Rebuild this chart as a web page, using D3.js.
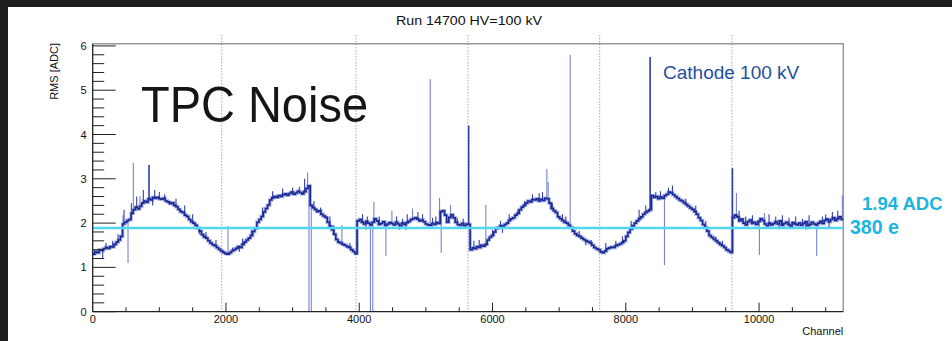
<!DOCTYPE html>
<html>
<head>
<meta charset="utf-8">
<script src="https://cdn.jsdelivr.net/npm/d3@7"></script>
<style>
  html, body { margin: 0; padding: 0; background: #fff; }
  svg { display: block; font-family: "Liberation Sans", Arial, Helvetica, sans-serif; }
</style>
</head>
<body>
<div id="pic"></div>
<script>
// noise RMS per 32-channel bin
var binWidth = 32;
var rms = [
  1.30, 1.36, 1.33, 1.40, 1.38, 1.42, 1.45, 1.43, 1.47, 1.46,
  1.52, 1.57, 1.62, 1.70, 1.98, 2.02, 2.06, 2.08, 2.22, 2.30,
  2.36, 2.32, 2.38, 2.45, 2.50, 2.47, 2.55, 2.52, 2.58, 2.56,
  2.58, 2.55, 2.54, 2.56, 2.50, 2.48, 2.44, 2.46, 2.40, 2.37,
  2.31, 2.26, 2.24, 2.18, 2.15, 2.08, 2.03, 2.00, 1.95, 1.89,
  1.82, 1.74, 1.69, 1.66, 1.60, 1.55, 1.51, 1.49, 1.45, 1.41,
  1.37, 1.34, 1.31, 1.30, 1.33, 1.37, 1.40, 1.43, 1.47, 1.45,
  1.52, 1.57, 1.62, 1.66, 1.72, 1.81, 1.88, 2.02, 2.08, 2.15,
  2.25, 2.33, 2.41, 2.52, 2.57, 2.60, 2.58, 2.62, 2.60, 2.64,
  2.66, 2.63, 2.67, 2.70, 2.65, 2.68, 2.72, 2.69, 2.66, 2.71,
  2.78, 2.84, 2.40, 2.35, 2.31, 2.26, 2.28, 2.20, 2.16, 2.13,
  2.02, 1.93, 1.85, 1.75, 1.63, 1.57, 1.55, 1.52, 1.50, 1.47,
  1.45, 1.40, 1.36, 1.31, 2.05, 2.08, 2.02, 1.98, 2.04, 2.00,
  1.96, 2.02, 2.10, 2.05, 1.97, 1.99, 2.03, 1.95, 1.98, 2.01,
  1.99, 1.96, 2.02, 1.98, 1.94, 2.00, 1.97, 2.01, 2.04, 2.08,
  2.10, 2.12, 2.09, 2.05, 2.07, 2.03, 1.98, 1.96, 1.95, 1.99,
  1.97, 2.01, 1.99, 2.26, 2.28, 2.18, 2.02, 2.13, 2.19, 2.12,
  2.02, 1.97, 1.95, 1.99, 1.94, 1.98, 1.97, 1.40, 1.44, 1.42,
  1.47, 1.45, 1.50, 1.48, 1.52, 1.62, 1.68, 1.72, 1.80, 1.88,
  1.90, 1.94, 1.92, 1.97, 2.00, 2.06, 2.10, 2.12, 2.18, 2.22,
  2.30, 2.36, 2.40, 2.45, 2.50, 2.48, 2.53, 2.52, 2.55, 2.50,
  2.54, 2.51, 2.56, 2.55, 2.45, 2.33, 2.28, 2.24, 2.14, 2.10,
  2.06, 2.02, 2.00, 1.95, 1.90, 1.82, 1.76, 1.72, 1.70, 1.66,
  1.63, 1.60, 1.58, 1.55, 1.50, 1.45, 1.42, 1.40, 1.35, 1.33,
  1.37, 1.42, 1.44, 1.46, 1.45, 1.49, 1.51, 1.53, 1.56, 1.60,
  1.70, 1.79, 1.86, 1.94, 2.00, 2.05, 2.10, 2.14, 2.20, 2.24,
  2.27, 2.30, 2.62, 2.58, 2.60, 2.55, 2.59, 2.56, 2.62, 2.65,
  2.70, 2.68, 2.64, 2.60, 2.56, 2.52, 2.50, 2.46, 2.42, 2.38,
  2.34, 2.31, 2.26, 2.20, 2.12, 2.06, 1.97, 1.90, 1.82, 1.72,
  1.68, 1.64, 1.60, 1.56, 1.52, 1.49, 1.45, 1.40, 1.37, 1.34,
  2.12, 2.18, 2.14, 2.05, 2.09, 2.00, 1.96, 2.03, 2.07, 1.99,
  2.02, 1.97, 2.04, 2.10, 2.06, 1.98, 1.94, 2.00, 1.96, 1.99,
  2.03, 1.98, 2.05, 1.95, 1.99, 2.02, 1.97, 1.93, 2.01, 1.98,
  1.96, 2.00, 1.95, 1.99, 2.03, 1.94, 1.97, 2.02, 1.98, 1.96,
  2.00, 2.04, 1.99, 2.06, 2.09, 2.03, 2.08, 2.12, 2.06, 2.10,
  2.14, 2.08
];

// single noisy channels standing out of the band: [channel, RMS, dark?]
var spikes = [
  [455, 2.18, 0], [530, 1.10, 0], [610, 3.36, 0], [710, 2.61, 0], [845, 3.31, 1],
  [2030, 1.93, 0], [3225, 3.14, 0], [3245, 0, 0], [3280, 0, 0], [3740, 1.96, 0],
  [4168, 0, 0], [4203, 0, 0], [4220, 2.48, 0], [4400, 1.26, 0], [4490, 2.28, 0],
  [4800, 2.33, 0], [5065, 5.25, 0], [5205, 2.57, 0], [5230, 1.33, 0], [5370, 2.41, 0],
  [5642, 4.2, 1], [5900, 2.41, 0], [6815, 3.22, 0], [6835, 2.93, 0], [7165, 5.8, 0],
  [8365, 5.75, 1], [8580, 1.05, 0], [9600, 3.24, 1], [9660, 2.68, 0], [10005, 1.28, 0],
  [10080, 2.23, 0], [10865, 1.26, 0], [11250, 2.63, 0]
];

// small channel-to-channel wiggles on the band: [channel, RMS]
var wiggles = [
  [150, 1.20], [200, 1.55], [300, 1.60], [380, 1.75], [470, 2.30], [580, 2.45],
  [660, 2.60], [760, 2.75], [900, 2.40], [930, 2.75], [1000, 2.70], [1080, 2.65],
  [1250, 2.55], [1380, 2.40], [1500, 2.20], [1600, 1.75], [1700, 1.80], [1850, 1.62],
  [2100, 1.45], [2200, 1.35], [2250, 1.65], [2380, 1.85], [2550, 2.35], [2700, 2.72],
  [2850, 2.78], [3000, 2.80], [3100, 2.82], [3180, 3.00], [3320, 2.50], [3420, 2.35],
  [3560, 2.15], [3620, 1.95], [3860, 1.55], [4050, 2.20], [4100, 1.85], [4120, 2.15],
  [4300, 2.15], [4560, 2.15], [4600, 1.85], [4650, 2.10], [4700, 1.85], [4720, 2.20],
  [4880, 2.25], [4950, 2.20], [5100, 2.12], [5150, 2.15], [5470, 2.12], [5560, 2.10],
  [5720, 1.60], [5800, 1.62], [6000, 1.85], [6120, 2.05], [6150, 1.78], [6250, 2.20],
  [6380, 2.30], [6480, 2.50], [6600, 2.65], [6700, 2.68], [6750, 2.70], [6900, 2.45],
  [7050, 2.20], [7100, 2.15], [7300, 1.82], [7400, 1.50], [7480, 1.62], [7700, 1.55],
  [7850, 1.60], [7950, 1.70], [8080, 2.05], [8200, 2.30], [8300, 2.40], [8450, 2.70],
  [8520, 2.72], [8640, 2.80], [8700, 2.85], [8900, 2.55], [9050, 2.40], [9200, 2.05],
  [9350, 1.70], [9450, 1.60], [9500, 1.38], [9700, 2.28], [9800, 2.15], [9900, 2.18],
  [10150, 2.20], [10250, 2.15], [10300, 1.86], [10350, 2.18], [10450, 2.12], [10550, 2.15],
  [10650, 2.10], [10700, 1.85], [10750, 2.18], [10950, 2.15], [11000, 2.20], [11050, 1.90],
  [11100, 2.25], [11180, 2.28]
];

var nChannels = 11264;
var yMax = 6.05;
var xTicks = [0, 2000, 4000, 6000, 8000, 10000];
var yTicks = [0, 1, 2, 3, 4, 5, 6];
var boundaries = [1936, 3952, 5632, 7608, 9592];
var meanLevel = 1.89;

var svg = d3.select("#pic")
  .append("svg")
  .attr("width", 952)
  .attr("height", 341);

var x = d3.scaleLinear().domain([0, nChannels]).range([92.7, 843.3]);
var y = d3.scaleLinear().domain([0, yMax]).range([311.7, 43.7]);

// dark window border
svg.append("rect").attr("x", 0).attr("y", 0).attr("width", 952).attr("height", 7).attr("fill", "#1f1f1f");
svg.append("rect").attr("x", 0).attr("y", 0).attr("width", 8).attr("height", 341).attr("fill", "#1f1f1f");

// title
svg.append("text")
  .attr("x", 469).attr("y", 25)
  .attr("text-anchor", "middle")
  .attr("font-size", 13.5)
  .attr("fill", "#111")
  .attr("textLength", 146)
  .attr("lengthAdjust", "spacingAndGlyphs")
  .text("Run 14700 HV=100 kV");

// dotted boundary lines
svg.append("g")
  .selectAll("line")
  .data(boundaries)
  .enter()
  .append("line")
    .attr("x1", function(d) { return x(d) })
    .attr("x2", function(d) { return x(d) })
    .attr("y1", 35)
    .attr("y2", y(0))
    .attr("stroke", "#aaa")
    .attr("stroke-width", 1)
    .attr("stroke-dasharray", "1.5,1.5");

// frame top / right
svg.append("path")
  .attr("d", "M" + x(0) + "," + y(yMax) + "H" + x(nChannels) + "V" + y(0))
  .attr("fill", "none")
  .attr("stroke", "#999")
  .attr("stroke-width", 1.5);

// histogram
var pts = rms.map(function(v, i) { return {ch: i * binWidth, v: v}; });
pts.push({ch: nChannels, v: rms[rms.length - 1]});
var line = d3.line()
  .curve(d3.curveStepAfter)
  .x(function(d) { return x(d.ch) })
  .y(function(d) { return y(d.v) });

function band(ch) { return rms[Math.min(rms.length - 1, Math.floor(ch / binWidth))]; }

svg.append("path")
  .datum(pts)
  .attr("fill", "none")
  .attr("stroke", "#6570c8")
  .attr("stroke-width", 3.4)
  .attr("opacity", 0.55)
  .attr("d", line);

svg.append("g")
  .selectAll("line")
  .data(spikes)
  .enter()
  .append("line")
    .attr("x1", function(d) { return x(d[0]) })
    .attr("x2", function(d) { return x(d[0]) })
    .attr("y1", function(d) { return y(band(d[0])) })
    .attr("y2", function(d) { return y(d[1]) })
    .attr("stroke", function(d) { return d[2] ? "#2a3eaa" : "#7a82d0" })
    .attr("stroke-width", function(d) { return d[2] ? 1.6 : 1.1 });

svg.append("g")
  .selectAll("line")
  .data(wiggles)
  .enter()
  .append("line")
    .attr("x1", function(d) { return x(d[0]) })
    .attr("x2", function(d) { return x(d[0]) })
    .attr("y1", function(d) { return y(band(d[0])) })
    .attr("y2", function(d) { return y(d[1]) })
    .attr("stroke", "#3441ad")
    .attr("stroke-width", 1.1);

svg.append("path")
  .datum(pts)
  .attr("fill", "none")
  .attr("stroke", "#182894")
  .attr("stroke-width", 1.6)
  .attr("d", line);

// mean noise level
svg.append("line")
  .attr("x1", x(0)).attr("x2", x(nChannels))
  .attr("y1", y(meanLevel)).attr("y2", y(meanLevel))
  .attr("stroke", "#52d6f3")
  .attr("stroke-width", 2.5);

// axes
var xAxis = svg.append("g").attr("transform", "translate(0," + y(0) + ")");
xAxis.append("line").attr("x1", x(0)).attr("x2", x(nChannels)).attr("stroke", "#222").attr("stroke-width", 1.3);
xAxis.selectAll("line.minor")
  .data(d3.range(500, nChannels, 500))
  .enter()
  .append("line")
    .attr("class", "minor")
    .attr("x1", function(d) { return x(d) })
    .attr("x2", function(d) { return x(d) })
    .attr("y1", 0)
    .attr("y2", function(d) { return d % 2000 === 0 ? -9 : -4.5 })
    .attr("stroke", "#222");
xAxis.selectAll("text")
  .data(xTicks)
  .enter()
  .append("text")
    .attr("x", function(d) { return x(d) })
    .attr("y", 11)
    .attr("text-anchor", "middle")
    .attr("font-size", 11)
    .attr("fill", "#111")
    .text(function(d) { return d });

svg.append("text")
  .attr("x", x(nChannels)).attr("y", 335)
  .attr("text-anchor", "end")
  .attr("font-size", 11)
  .attr("fill", "#111")
  .text("Channel");

var yAxis = svg.append("g").attr("transform", "translate(" + x(0) + ",0)");
yAxis.append("line").attr("y1", y(0)).attr("y2", y(yMax)).attr("stroke", "#222").attr("stroke-width", 1.3);
yAxis.selectAll("line.minor")
  .data(d3.range(0, 30.5, 1).map(function(k) { return k / 5; }))
  .enter()
  .append("line")
    .attr("class", "minor")
    .attr("y1", function(d) { return y(d) })
    .attr("y2", function(d) { return y(d) })
    .attr("x1", 0)
    .attr("x2", function(d, i) { return i % 5 === 0 ? 23 : 11.5 })
    .attr("stroke", "#222");
yAxis.selectAll("text")
  .data(yTicks)
  .enter()
  .append("text")
    .attr("x", -6)
    .attr("y", function(d) { return y(d) + 4 })
    .attr("text-anchor", "end")
    .attr("font-size", 11)
    .attr("fill", "#111")
    .text(function(d) { return d });

svg.append("text")
  .attr("transform", "translate(57.5,43) rotate(-90)")
  .attr("text-anchor", "end")
  .attr("font-size", 11)
  .attr("fill", "#111")
  .text("RMS [ADC]");

// annotations
svg.append("text")
  .attr("x", 141).attr("y", 121.5)
  .attr("font-size", 50)
  .attr("fill", "#151515")
  .attr("textLength", 227)
  .attr("lengthAdjust", "spacingAndGlyphs")
  .text("TPC Noise");

svg.append("text")
  .attr("x", 663).attr("y", 78.5)
  .attr("font-size", 19)
  .attr("fill", "#1f4fa0")
  .text("Cathode 100 kV");

svg.append("text")
  .attr("x", 862).attr("y", 209.5)
  .attr("font-size", 18.5)
  .attr("font-weight", "bold")
  .attr("fill", "#1db4e0")
  .text("1.94 ADC");

svg.append("text")
  .attr("x", 850).attr("y", 234)
  .attr("font-size", 19.5)
  .attr("font-weight", "bold")
  .attr("fill", "#1db4e0")
  .text("380 e");
</script>
</body>
</html>
